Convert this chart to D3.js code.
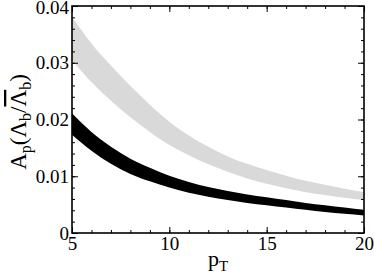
<!DOCTYPE html>
<html>
<head>
<meta charset="utf-8">
<script src="https://cdn.jsdelivr.net/npm/d3@7"></script>
<style>
  body { margin: 0; background: #fff; }
  svg text { font-family: "Liberation Serif", "DejaVu Serif"; }
</style>
</head>
<body>
<div id="chart"></div>
<script>
// pT values and the two uncertainty bands
var pT      = [5, 6, 7, 8, 9, 10, 11, 12, 13, 14, 15, 16, 17, 18, 19, 20];
var grayHi  = [0.0381, 0.0334, 0.0295, 0.0259, 0.0226, 0.0196, 0.0172, 0.0152, 0.0135, 0.0122, 0.0111, 0.0101, 0.0092, 0.0085, 0.0078, 0.0072];
var grayLo  = [0.0305, 0.0266, 0.0233, 0.0204, 0.0178, 0.0155, 0.0137, 0.0121, 0.0108, 0.0096, 0.0087, 0.0079, 0.0072, 0.0067, 0.0062, 0.0058];
var blackHi = [0.0211, 0.0178, 0.0152, 0.0131, 0.0115, 0.0101, 0.0090, 0.0081, 0.0074, 0.0068, 0.0063, 0.0058, 0.0053, 0.0049, 0.0045, 0.0041];
var blackLo = [0.0173, 0.0145, 0.0122, 0.0104, 0.0091, 0.0080, 0.0071, 0.0064, 0.0058, 0.0053, 0.0049, 0.0045, 0.0041, 0.0037, 0.0034, 0.0031];

var xTicks = [5, 10, 15, 20];
var yTicks = [0, 0.01, 0.02, 0.03, 0.04];
var yTickLabels = ["0", "0.01", "0.02", "0.03", "0.04"];

function init() {
    var w = 374, h = 274;
    var m = {top: 6, right: 10, bottom: 41, left: 72};
    var iw = w - m.left - m.right, ih = h - m.top - m.bottom;

    var svg = d3.select("#chart").append("svg")
        .attr("width", w).attr("height", h);
    var g = svg.append("g").attr("transform", "translate(" + m.left + "," + m.top + ")");

    var x = d3.scaleLinear().domain([5, 20]).range([0, iw]);
    var y = d3.scaleLinear().domain([0, 0.04]).range([ih, 0]);

    function band(lo, hi) {
        return pT.map(function(p, i) { return {p: p, lo: lo[i], hi: hi[i]}; });
    }
    var area = d3.area()
        .x(function(d) { return x(d.p); })
        .y0(function(d) { return y(d.lo); })
        .y1(function(d) { return y(d.hi); })
        .curve(d3.curveMonotoneX);

    g.append("path").datum(band(grayLo, grayHi))
        .attr("d", area).attr("fill", "#d9d9d9");
    g.append("path").datum(band(blackLo, blackHi))
        .attr("d", area).attr("fill", "#000");

    var xMinor = d3.range(5, 21, 1);
    var yMinor = d3.range(0, 0.0401, 0.002);

    function style(sel) {
        sel.attr("font-family", null);
        sel.select(".domain").remove();
        sel.selectAll("line").attr("stroke", "#000").attr("stroke-width", 1);
        sel.selectAll("text").attr("font-size", "19px").attr("fill", "#000");
    }

    // bottom
    g.append("g").attr("transform", "translate(0," + ih + ")")
        .call(d3.axisBottom(x).tickValues(xMinor).tickSize(-3).tickFormat("")).call(style);
    g.append("g").attr("transform", "translate(0," + ih + ")")
        .call(d3.axisBottom(x).tickValues(xTicks).tickSize(-6).tickPadding(4).tickFormat(d3.format("d"))).call(style);
    // top
    g.append("g")
        .call(d3.axisTop(x).tickValues(xMinor).tickSize(-3).tickFormat("")).call(style);
    g.append("g")
        .call(d3.axisTop(x).tickValues(xTicks).tickSize(-6).tickFormat("")).call(style);
    // left
    g.append("g")
        .call(d3.axisLeft(y).tickValues(yMinor).tickSize(-3).tickFormat("")).call(style);
    var yAxis = g.append("g")
        .call(d3.axisLeft(y).tickValues(yTicks).tickSize(-6).tickPadding(3)
            .tickFormat(function(d, i) { return yTickLabels[i]; })).call(style);
    // keep the top label inside the picture
    yAxis.selectAll("text").filter(function(d) { return d === 0.04; }).attr("dy", "0.42em");
    // right
    g.append("g").attr("transform", "translate(" + iw + ",0)")
        .call(d3.axisRight(y).tickValues(yMinor).tickSize(-3).tickFormat("")).call(style);
    g.append("g").attr("transform", "translate(" + iw + ",0)")
        .call(d3.axisRight(y).tickValues(yTicks).tickSize(-6).tickFormat("")).call(style);

    // frame
    g.append("rect").attr("width", iw).attr("height", ih)
        .attr("fill", "none").attr("stroke", "#000").attr("stroke-width", 1.6);

    // x label
    var xl = svg.append("text")
        .attr("x", m.left + iw / 2).attr("y", 266)
        .attr("text-anchor", "middle").attr("font-size", "22px");
    xl.append("tspan").text("p");
    xl.append("tspan").attr("font-size", "15px").attr("dy", 5).text("T");

    // y label
    var yl = svg.append("text")
        .attr("transform", "translate(26," + (m.top + 116) + ") rotate(-90)")
        .attr("text-anchor", "middle").attr("font-size", "23px");
    yl.append("tspan").text("A");
    yl.append("tspan").attr("font-size", "16px").attr("dy", 5).text("p");
    yl.append("tspan").attr("dy", -5).text("(\u039B");
    yl.append("tspan").attr("font-size", "16px").attr("dy", 5).text("b");
    yl.append("tspan").attr("dy", -5).text("/");
    yl.append("tspan").attr("style", "text-decoration: overline").text("\u039B");
    yl.append("tspan").attr("font-size", "16px").attr("dy", 5).text("b");
    yl.append("tspan").attr("dy", -5).text(")");
}
window.onload = init;
</script>
</body>
</html>
